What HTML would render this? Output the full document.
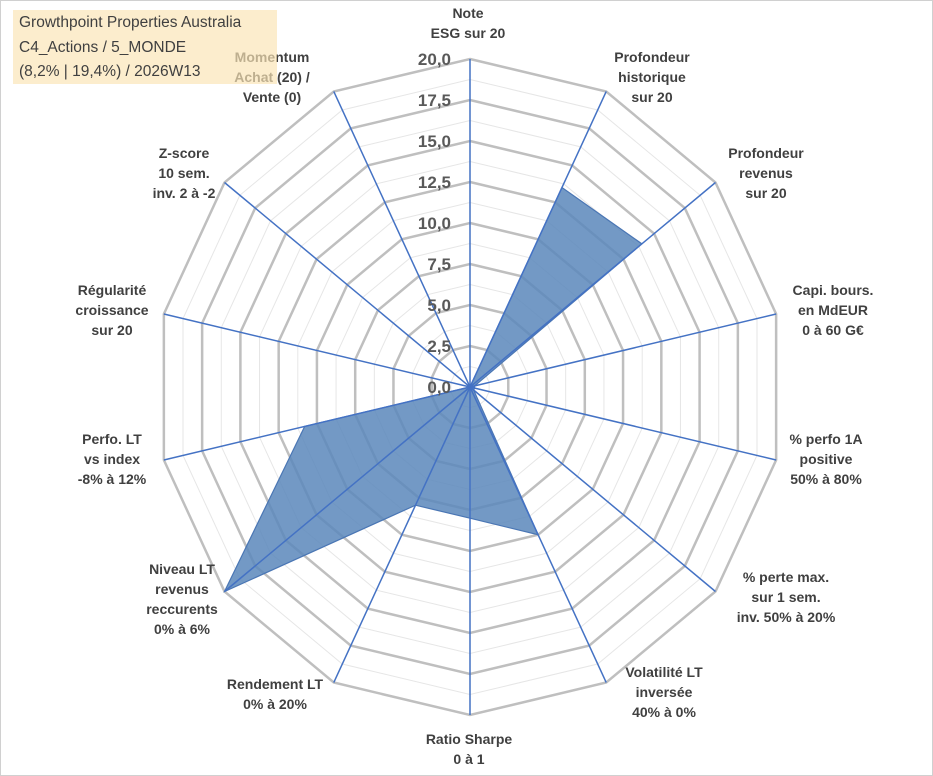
<!DOCTYPE html>
<html><head><meta charset="utf-8">
<style>
html,body{margin:0;padding:0;background:#fff;}
body{width:933px;height:776px;overflow:hidden;position:relative;font-family:"Liberation Sans",Arial,sans-serif;}
#frame{position:absolute;left:0;top:0;width:931px;height:774px;border:1px solid #d0d0d0;}
svg{position:absolute;left:0;top:0;}
.lbl{font-weight:bold;font-size:14px;fill:#404040;text-anchor:middle;}
.tick{font-weight:bold;font-size:17px;fill:#595959;text-anchor:end;}
#titlebox{position:absolute;left:13px;top:10px;width:264px;height:74px;background:rgba(251,229,181,0.68);font-size:15.5px;color:#404040;line-height:24.5px;padding-left:6px;box-sizing:border-box;padding-top:1px;}
</style></head>
<body>
<div id="frame"></div>
<svg id="chart" width="933" height="776"></svg>
<div id="titlebox">Growthpoint Properties Australia<br>C4_Actions / 5_MONDE<br>(8,2% | 19,4%) / 2026W13</div>
<script>
const categories=[
 ["Note","ESG sur 20"],
 ["Profondeur","historique","sur 20"],
 ["Profondeur","revenus","sur 20"],
 ["Capi. bours.","en MdEUR","0 à 60 G€"],
 ["% perfo 1A","positive","50% à 80%"],
 ["% perte max.","sur 1 sem.","inv. 50% à 20%"],
 ["Volatilité LT","inversée","40% à 0%"],
 ["Ratio Sharpe","0 à 1"],
 ["Rendement LT","0% à 20%"],
 ["Niveau LT","revenus","reccurents","0% à 6%"],
 ["Perfo. LT","vs index","-8% à 12%"],
 ["Régularité","croissance","sur 20"],
 ["Z-score","10 sem.","inv. 2 à -2"],
 ["Momentum","Achat (20) /","Vente (0)"]
];
const values=[0,13.5,14,0.3,0.3,0.3,10,8,8,20,10.8,0,0,0];
const tickLabels=["0,0","2,5","5,0","7,5","10,0","12,5","15,0","17,5","20,0"];
const maxVal=20;

const NS="http://www.w3.org/2000/svg";
const svg=document.getElementById('chart');
const cx=470,cy=387,rx=314,ry=328;
const N=categories.length;
function pt(i,v){const a=i*2*Math.PI/N;return [cx+Math.sin(a)*rx*v/maxVal, cy-Math.cos(a)*ry*v/maxVal];}
function mk(tag,attrs){const e=document.createElementNS(NS,tag);for(const k in attrs)e.setAttribute(k,attrs[k]);svg.appendChild(e);return e;}

// minor rings
for(let k=0;k<tickLabels.length-1;k++){
  const v=(k+0.5)*maxVal/(tickLabels.length-1);
  const p=[];for(let i=0;i<N;i++)p.push(pt(i,v).join(','));
  const e=mk('polygon',{points:p.join(' '),fill:'none',stroke:'#e6e6e6','stroke-width':1});
  
  
}
// major rings
for(let k=1;k<tickLabels.length;k++){
  const v=k*maxVal/(tickLabels.length-1);
  const p=[];for(let i=0;i<N;i++)p.push(pt(i,v).join(','));
  const e=mk('polygon',{points:p.join(' '),fill:'none',stroke:'#bfbfbf','stroke-width':2.5});
  
  
}
// series area
const sp=values.map((v,i)=>pt(i,v).join(',')).join(' ');
const area=mk('polygon',{points:sp,fill:'#5b87bb','fill-opacity':0.85,stroke:'#4a76b4','stroke-width':1.2});


// spokes
for(let i=0;i<N;i++){
  const [x,y]=pt(i,maxVal);
  const e=mk('line',{x1:cx,y1:cy,x2:x,y2:y,stroke:'#4472c4','stroke-width':1.5});
  
  
}
// tick labels
tickLabels.forEach((t,k)=>{
  const v=k*maxVal/(tickLabels.length-1);
  const e=mk('text',{x:cx-19,y:cy-ry*v/maxVal+6,class:'tick'});
  e.textContent=t;
  
  
});
// category labels
const labelPos=[[468,18],[652,62],[766,158],[833,295],[826,444],[786,582],[664,677],[469,744],[275,689],[182,574],[112,444],[112,295],[184,158],[272,62]];
categories.forEach((lines,i)=>{
  const [x,y]=labelPos[i];
  const e=mk('text',{x:x,y:y,class:'lbl'});
  
  
  lines.forEach((l,j)=>{const ts=document.createElementNS(NS,'tspan');ts.setAttribute('x',x);ts.setAttribute('y',y+j*20);ts.textContent=l;e.appendChild(ts);});
});
</script>
</body></html>
